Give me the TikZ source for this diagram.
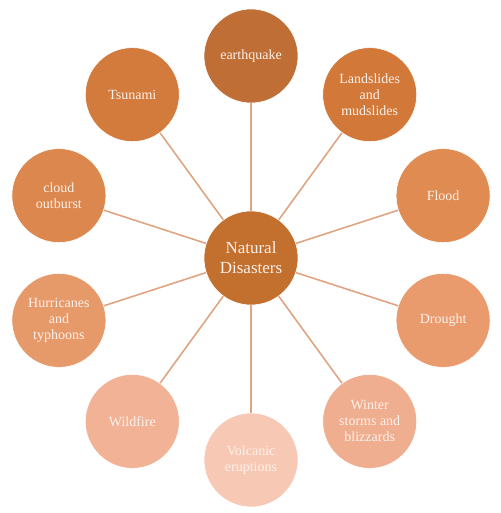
\documentclass[tikz,border=0pt]{standalone}
\usepackage{fontspec}
\setmainfont{Liberation Serif}
\definecolor{cC}{HTML}{C3702F}
\definecolor{c1}{HTML}{BF6F35}
\definecolor{c2}{HTML}{D2793A}
\definecolor{c3}{HTML}{E08B52}
\definecolor{c4}{HTML}{E99B6E}
\definecolor{c5}{HTML}{EFAE90}
\definecolor{c6}{HTML}{F7C9B4}
\definecolor{c7}{HTML}{F2B296}
\definecolor{c8}{HTML}{E69A6A}
\definecolor{c9}{HTML}{DC874D}
\definecolor{c10}{HTML}{D37A3D}
\definecolor{linkc}{HTML}{DFA482}
\definecolor{txt}{HTML}{FCF1EA}
\tikzset{
  disc/.style={circle, minimum size=94pt, inner sep=0pt, draw=white, line width=0.6pt,
    text=txt, align=center, font=\fontsize{14}{16}\selectfont},
  hub/.style={disc, font=\fontsize{17}{20}\selectfont},
  link/.style={draw=linkc, line width=1.6pt}
}
\begin{document}
\begin{tikzpicture}[x=1pt,y=-1pt]
\useasboundingbox (0,0) rectangle (500,513);
\node[hub, fill=cC] (c) at (251,258) {Natural\\Disasters};
\node[disc, fill=c1] (n1) at (251,56) {earthquake};
\node[disc, fill=c2] (n2) at (369.7,94.6) {Landslides\\and\\mudslides};
\node[disc, fill=c3] (n3) at (443.1,195.6) {Flood};
\node[disc, fill=c4] (n4) at (443.1,320.4) {Drought};
\node[disc, fill=c5] (n5) at (369.7,421.4) {Winter\\storms and\\blizzards};
\node[disc, fill=c6] (n6) at (251,460) {Volcanic\\eruptions};
\node[disc, fill=c7] (n7) at (132.3,421.4) {Wildfire};
\node[disc, fill=c8] (n8) at (58.9,320.4) {Hurricanes\\and\\typhoons};
\node[disc, fill=c9] (n9) at (58.9,195.6) {cloud\\outburst};
\node[disc, fill=c10] (n10) at (132.3,94.6) {Tsunami};
\foreach \i in {1,...,10} {\draw[link] (c) -- (n\i);}
\end{tikzpicture}
\end{document}
